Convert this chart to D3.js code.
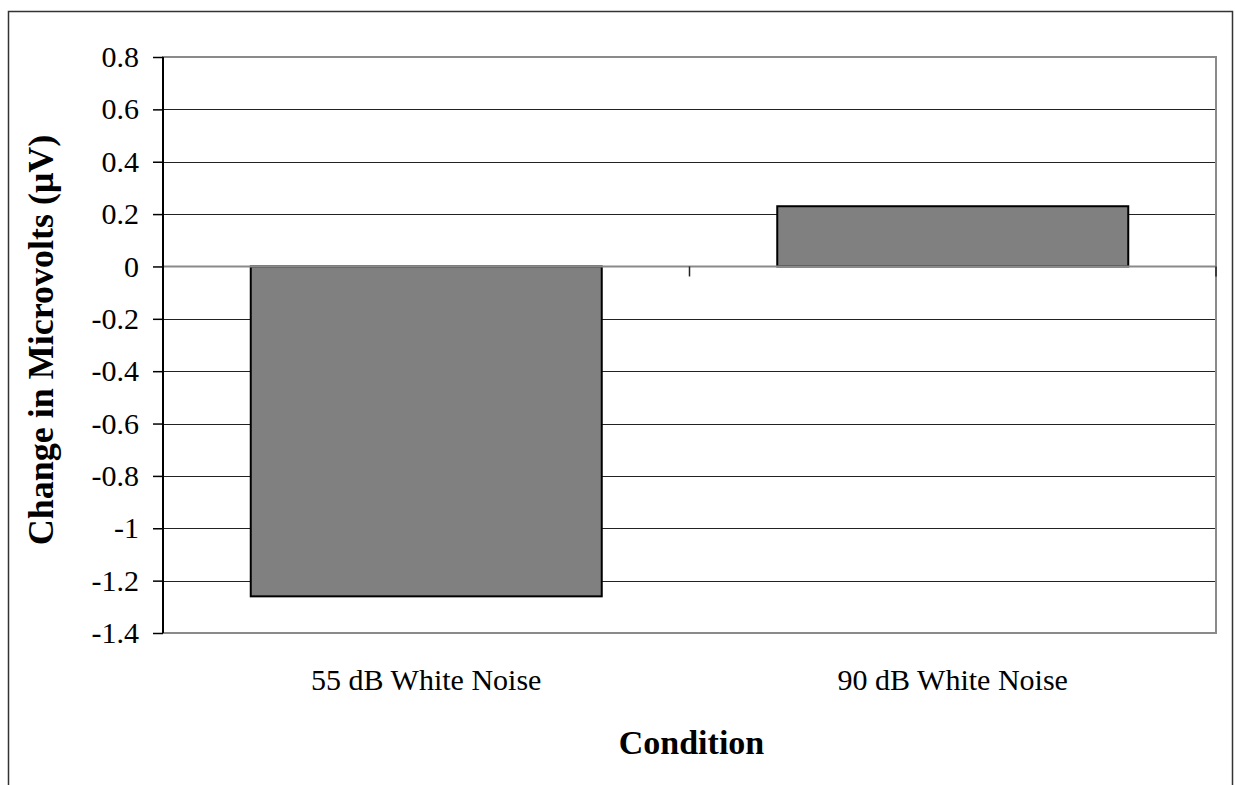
<!DOCTYPE html>
<html>
<head>
<meta charset="utf-8">
<script src="https://cdnjs.cloudflare.com/ajax/libs/d3/7.8.5/d3.min.js"></script>
<style>
  body { margin: 0; background: #fff; }
  text { font-family: "Liberation Serif", "Times New Roman", serif; fill: #000; }
</style>
</head>
<body>
<script>
// Data
var categories = ["55 dB White Noise", "90 dB White Noise"];
var values = [-1.26, 0.23];
var yTicks = [0.8, 0.6, 0.4, 0.2, 0, -0.2, -0.4, -0.6, -0.8, -1, -1.2, -1.4];

// SVG area
var svgWidth = 1235;
var svgHeight = 785;

var margin = {
  top: 57,
  right: 19,
  bottom: 152,
  left: 163
};

var chartWidth = svgWidth - margin.left - margin.right;
var chartHeight = svgHeight - margin.top - margin.bottom;

var svg = d3.select("body")
  .append("svg")
  .attr("width", svgWidth)
  .attr("height", svgHeight);

// outer frame (bottom edge runs off the page)
svg.append("path")
  .attr("d", "M8.5," + (svgHeight + 5) + "V11.5H1232.5V" + (svgHeight + 5))
  .attr("fill", "none")
  .attr("stroke", "#333")
  .attr("stroke-width", 1.5);

var chart = svg.append("g")
  .attr("transform", "translate(" + margin.left + "," + margin.top + ")");

var x = d3.scaleBand()
  .domain(categories)
  .range([0, chartWidth])
  .padding(0);

var y = d3.scaleLinear()
  .domain([-1.4, 0.8])
  .range([chartHeight, 0]);

// gridlines
chart.selectAll(".grid")
  .data(yTicks.filter(function(d) { return d !== 0 && d !== -1.4 && d !== 0.8; }))
  .enter()
  .append("line")
  .attr("class", "grid")
  .attr("x1", 0)
  .attr("x2", chartWidth)
  .attr("y1", function(d) { return Math.round(y(d)) + 0.5; })
  .attr("y2", function(d) { return Math.round(y(d)) + 0.5; })
  .attr("stroke", "#222")
  .attr("stroke-width", 1);

// plot area border (grey)
chart.append("rect")
  .attr("x", 0)
  .attr("y", 0)
  .attr("width", chartWidth)
  .attr("height", chartHeight)
  .attr("fill", "none")
  .attr("stroke", "#8a8a8a")
  .attr("stroke-width", 2);

// bars
var barWidth = x.bandwidth() / 1.5;

chart.selectAll(".bar")
  .data(values)
  .enter()
  .append("rect")
  .attr("class", "bar")
  .attr("x", function(d, i) { return x(categories[i]) + (x.bandwidth() - barWidth) / 2; })
  .attr("y", function(d) { return y(Math.max(0, d)); })
  .attr("width", barWidth)
  .attr("height", function(d) { return Math.abs(y(d) - y(0)); })
  .attr("fill", "#808080")
  .attr("stroke", "#000")
  .attr("stroke-width", 2);

// zero line (category axis)
var xAxisG = chart.append("g")
  .attr("transform", "translate(0," + y(0) + ")");

xAxisG.append("line")
  .attr("x1", 0)
  .attr("x2", chartWidth)
  .attr("stroke", "#8a8a8a")
  .attr("stroke-width", 2);

// tick marks between categories
xAxisG.selectAll(".ctick")
  .data(categories)
  .enter()
  .append("line")
  .attr("class", "ctick")
  .attr("x1", function(d) { return x(d) + x.bandwidth(); })
  .attr("x2", function(d) { return x(d) + x.bandwidth(); })
  .attr("y1", 0)
  .attr("y2", 10)
  .attr("stroke", "#222")
  .attr("stroke-width", 1.5);

// category labels
chart.selectAll(".clabel")
  .data(categories)
  .enter()
  .append("text")
  .attr("class", "clabel")
  .attr("x", function(d) { return x(d) + x.bandwidth() / 2; })
  .attr("y", chartHeight + 57)
  .attr("text-anchor", "middle")
  .style("font-size", "30px")
  .text(function(d) { return d; });

// y axis
var yAxis = d3.axisLeft(y)
  .tickValues(yTicks)
  .tickSize(10)
  .tickPadding(14)
  .tickFormat(function(d) { return String(+d.toFixed(1)); });

var yAxisG = chart.append("g")
  .call(yAxis);

yAxisG.select(".domain")
  .attr("stroke", "#000")
  .attr("stroke-width", 2)
  .attr("d", "M0,0V" + chartHeight);

yAxisG.selectAll(".tick line")
  .attr("stroke", "#000")
  .attr("stroke-width", 1.5);

yAxisG.selectAll(".tick text")
  .style("font-size", "30px")
  .style("font-family", "Liberation Serif");

// axis titles
svg.append("text")
  .attr("transform", "translate(53,340) rotate(-90)")
  .attr("text-anchor", "middle")
  .style("font-size", "36px")
  .style("font-weight", "bold")
  .text("Change in Microvolts (\u03bcV)");

svg.append("text")
  .attr("x", margin.left + chartWidth / 2 + 2)
  .attr("y", 754)
  .attr("text-anchor", "middle")
  .style("font-size", "34px")
  .style("font-weight", "bold")
  .text("Condition");
</script>
</body>
</html>
